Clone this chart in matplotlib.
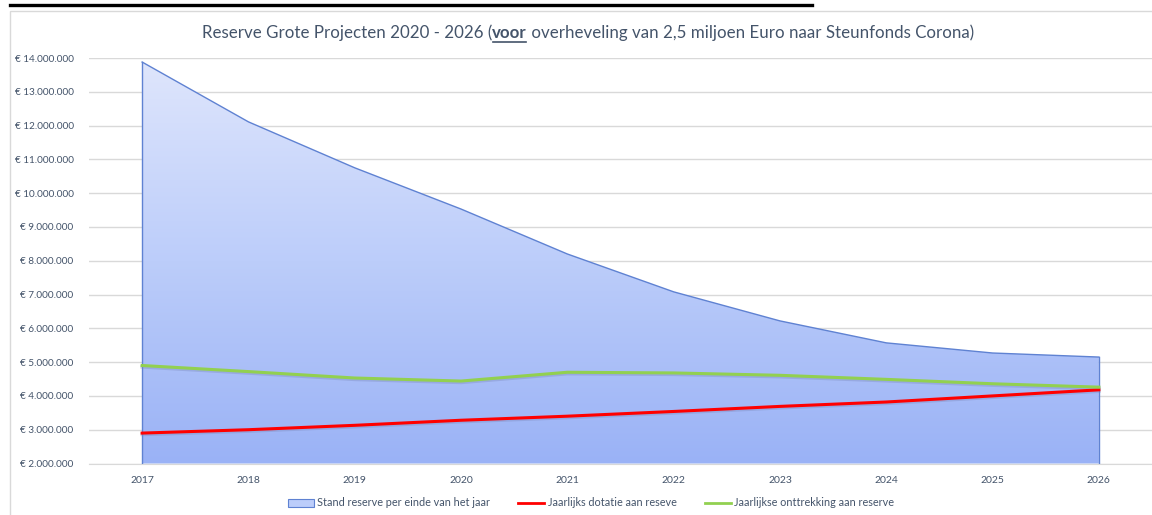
import numpy as np
import matplotlib
matplotlib.use("Agg")
import matplotlib.pyplot as plt
from matplotlib.patches import Rectangle, Patch
from matplotlib.lines import Line2D
from matplotlib.ticker import FuncFormatter
from matplotlib.colors import LinearSegmentedColormap

years = ["2017", "2018", "2019", "2020", "2021", "2022", "2023", "2024", "2025", "2026"]
stand_reserve = [13880000, 12110000, 10750000, 9530000, 8200000, 7080000, 6220000, 5570000, 5270000, 5150000]
dotatie = [2900000, 3000000, 3130000, 3280000, 3400000, 3540000, 3690000, 3820000, 4000000, 4180000]
onttrekking = [4900000, 4720000, 4530000, 4440000, 4700000, 4680000, 4610000, 4490000, 4360000, 4260000]
yticks = list(range(2000000, 14000001, 1000000))

title_parts = ["Reserve Grote Projecten 2020 - 2026 (", "voor", " overheveling van 2,5 miljoen Euro naar Steunfonds Corona)"]
legend_labels = ["Stand reserve per einde van het jaar", "Jaarlijks dotatie aan reseve", "Jaarlijkse onttrekking aan reserve"]

plt.rcParams['font.family'] = ['Lato', 'DejaVu Sans']
W, H = 1152, 515
fig = plt.figure(figsize=(W / 100, H / 100), dpi=100)
fig.patch.set_facecolor('white')

ax = fig.add_axes([89 / W, 1 - 463.5 / H, 1 - 89 / W, (463.5 - 58) / H])
x = np.arange(len(years))
ymin, ymax = 2000000, 14000000

# gradient area
poly = ax.fill_between(x, ymin, stand_reserve, facecolor='none', edgecolor='none', zorder=2)
cmap = LinearSegmentedColormap.from_list('g', ['#9ab2f6', '#bccdfa', '#dfe6fc'])
grad = np.linspace(0, 1, 256).reshape(-1, 1)
im = ax.imshow(grad, cmap=cmap, origin='lower', aspect='auto',
               extent=[-0.5, 9.5, ymin, ymax], zorder=2)
im.set_clip_path(poly.get_paths()[0], transform=ax.transData)
ax.plot(x, stand_reserve, color='#5f82d2', lw=1.0, zorder=3)
ax.plot([x[0], x[0]], [ymin, stand_reserve[0]], color='#5f82d2', lw=1.0, zorder=3)
ax.plot([x[-1], x[-1]], [ymin, stand_reserve[-1]], color='#5f82d2', lw=1.0, zorder=3)

# lines with a subtle shadow
ax.plot(x, np.array(dotatie) - 40000, color='#7a86b8', lw=2.6, alpha=0.35, zorder=3.5)
ax.plot(x, dotatie, color='#ff0000', lw=2.2, zorder=4)
ax.plot(x, np.array(onttrekking) - 40000, color='#7a86b8', lw=2.6, alpha=0.35, zorder=3.5)
ax.plot(x, onttrekking, color='#92d050', lw=2.2, zorder=4)

ax.set_xlim(-0.5, 9.5)
ax.set_ylim(ymin, ymax)
ax.set_yticks(yticks)
ax.yaxis.set_major_formatter(FuncFormatter(lambda v, p: "€ " + f"{int(v):,}".replace(",", ".")))
ax.set_xticks(x)
ax.set_xticklabels(years)
ax.grid(axis='y', color='#d9d9d9', lw=1, zorder=0)
ax.set_axisbelow(True)
for s in ['top', 'right', 'left']:
    ax.spines[s].set_visible(False)
ax.spines['bottom'].set_color('#d9d9d9')
ax.tick_params(axis='both', length=0, labelsize=7.2, colors='#44546a')
ax.tick_params(axis='y', pad=11)
ax.tick_params(axis='x', pad=9, labelsize=7.5)
ax.patch.set_alpha(0)

# chart border and clipped heading underline
fig.add_artist(Rectangle((10 / W, -0.1), 1.2, 1.1 - 11 / H, transform=fig.transFigure,
                         fill=False, edgecolor='#d9d9d9', lw=1))
fig.add_artist(Line2D([10 / W, 812 / W], [1 - 4.5 / H, 1 - 4.5 / H], transform=fig.transFigure,
                      color='black', lw=2.4))

# title with bold underlined "voor"
fig.canvas.draw()
r = fig.canvas.get_renderer()
tcol = '#44546a'
fs = 12.2
ty = 1 - 38 / H
ts = []
for i, part in enumerate(title_parts):
    ts.append(fig.text(0, ty, part, fontsize=fs, color=tcol,
                       fontweight='bold' if i == 1 else 'normal', ha='left', va='baseline'))
widths = [t.get_window_extent(r).width for t in ts]
total = sum(widths)
cx = 588
start = cx - total / 2
pos = start
for t, w in zip(ts, widths):
    t.set_x(pos / W)
    pos += w
bx0 = (start + widths[0] + 1) / W
bx1 = (start + widths[0] + widths[1] - 1) / W
fig.add_artist(Line2D([bx0, bx1], [ty - 4 / H, ty - 4 / H], transform=fig.transFigure,
                      color=tcol, lw=1.2))

# legend
handles = [Patch(facecolor='#bccdfa', edgecolor='#5f82d2', lw=0.8),
           Line2D([], [], color='#ff0000', lw=2),
           Line2D([], [], color='#92d050', lw=2)]
fig.legend(handles, legend_labels, loc='center', bbox_to_anchor=(591 / W, 1 - 503 / H),
           ncol=3, frameon=False, fontsize=7.8, labelcolor='#44546a',
           handlelength=2.4, handletextpad=0.3, columnspacing=2.6)

fig.savefig('out.png', dpi=100)
